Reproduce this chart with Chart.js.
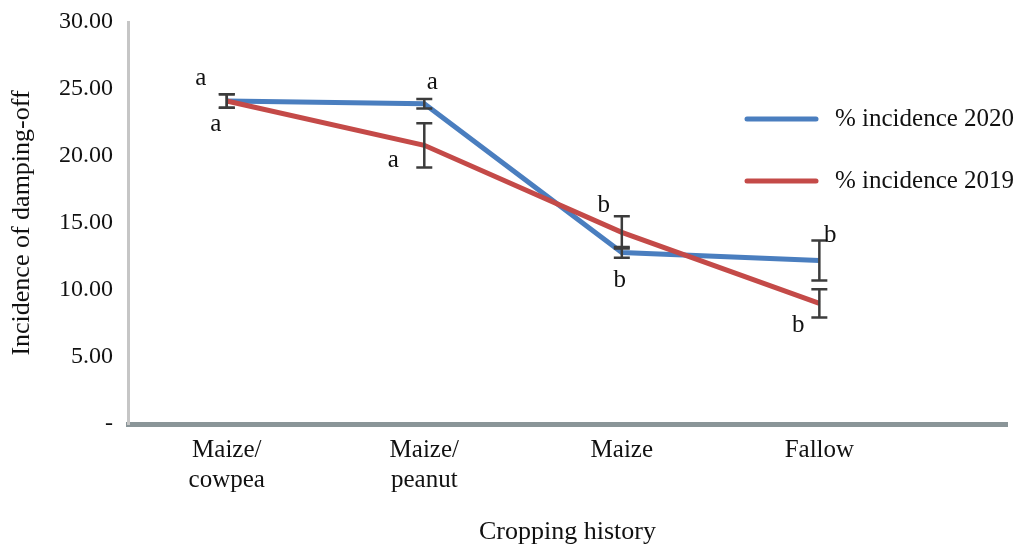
<!DOCTYPE html>
<html>
<head>
<meta charset="utf-8">
<script src="https://cdn.jsdelivr.net/npm/chart.js@4/dist/chart.umd.min.js"></script>
<style>
    html, body { margin: 0; padding: 0; background: #fff; }
    #wrap { width: 1018px; height: 545px; }
</style>
</head>
<body>
<div id="wrap"><canvas id="chart" width="1018" height="545"></canvas></div>
<script>
// values
var categories = [['Maize/', 'cowpea'], ['Maize/', 'peanut'], 'Maize', 'Fallow'];
var incidence2020 = [24.1, 23.9, 12.8, 12.2];
var incidence2019 = [24.1, 20.8, 14.3, 9.0];
var error2020 = [0.5, 0.35, 0.4, 1.5];
var error2019 = [0.5, 1.65, 1.2, 1.05];
var letters2020 = ['a', 'a', 'b', 'b'];
var letters2019 = ['a', 'a', 'b', 'b'];
var yTicks = [0, 5, 10, 15, 20, 25, 30];

var BLUE = '#4a7ebf';
var RED = '#c44a48';
var FONT = '"Liberation Serif", "Times New Roman", serif';

// where each letter sits next to its point (pixels)
var letterOffsets2020 = [[-26, -23], [8, -21], [-2, 28], [11, -25]];
var letterOffsets2019 = [[-11, 23], [-31, 15], [-18, -27], [-21, 22]];

function toPoints(values) {
    return values.map(function (v, i) { return { x: i, y: v }; });
}

var extrasPlugin = {
    id: 'extras',
    afterDatasetsDraw: function (chart) {
        var c = chart.ctx;
        var xs = chart.scales.x;
        var ys = chart.scales.y;

        // error bars
        c.save();
        c.strokeStyle = '#3c3c3c';
        c.lineWidth = 2.5;
        [[incidence2020, error2020], [incidence2019, error2019]].forEach(function (pair) {
            pair[0].forEach(function (v, i) {
                var px = xs.getPixelForValue(i);
                var top = ys.getPixelForValue(v + pair[1][i]);
                var bot = ys.getPixelForValue(v - pair[1][i]);
                c.beginPath();
                c.moveTo(px, top); c.lineTo(px, bot);
                c.moveTo(px - 8, top); c.lineTo(px + 8, top);
                c.moveTo(px - 8, bot); c.lineTo(px + 8, bot);
                c.stroke();
            });
        });
        c.restore();

        // significance letters
        c.save();
        c.fillStyle = '#111';
        c.font = '25px ' + FONT;
        c.textAlign = 'center';
        c.textBaseline = 'middle';
        [[incidence2020, letters2020, letterOffsets2020], [incidence2019, letters2019, letterOffsets2019]].forEach(function (set) {
            set[0].forEach(function (v, i) {
                var px = xs.getPixelForValue(i) + set[2][i][0];
                var py = ys.getPixelForValue(v) + set[2][i][1];
                c.fillText(set[1][i], px, py);
            });
        });
        c.restore();

        // legend inside plot
        c.save();
        c.lineCap = 'round';
        c.lineWidth = 5;
        c.font = '25px ' + FONT;
        c.fillStyle = '#111';
        c.textAlign = 'left';
        c.textBaseline = 'middle';
        chart.data.datasets.forEach(function (ds, k) {
            var ly = 119 + k * 62;
            c.strokeStyle = ds.borderColor;
            c.beginPath();
            c.moveTo(747, ly); c.lineTo(816, ly);
            c.stroke();
            c.fillText(ds.label, 835, ly);
        });
        c.restore();
    }
};

new Chart(document.getElementById('chart'), {
    type: 'line',
    data: {
        datasets: [
            { label: '% incidence 2020', data: toPoints(incidence2020), borderColor: BLUE, backgroundColor: BLUE, borderWidth: 5, pointRadius: 0, tension: 0, order: 1 },
            { label: '% incidence 2019', data: toPoints(incidence2019), borderColor: RED, backgroundColor: RED, borderWidth: 5, pointRadius: 0, tension: 0, order: 0 }
        ]
    },
    options: {
        responsive: false,
        animation: false,
        layout: { padding: { top: 22, right: 11, left: 0, bottom: 0 } },
        plugins: { legend: { display: false }, tooltip: { enabled: false } },
        scales: {
            x: {
                type: 'linear',
                min: -0.5,
                max: 3.95,
                afterBuildTicks: function (scale) {
                    scale.ticks = categories.map(function (c, i) { return { value: i }; });
                },
                afterFit: function (scale) { scale.height = 121; },
                grid: { display: false, drawTicks: false },
                border: { display: true, color: '#8a9598', width: 5 },
                ticks: {
                    color: '#111',
                    padding: 11,
                    maxRotation: 0,
                    autoSkip: false,
                    font: { family: FONT, size: 25, lineHeight: 1.2 },
                    callback: function (v) { return categories[v]; }
                },
                title: { display: true, text: 'Cropping history', color: '#111', font: { family: FONT, size: 26, lineHeight: 1 }, padding: { top: 0, bottom: 0 } }
            },
            y: {
                min: 0,
                max: 30,
                afterBuildTicks: function (scale) {
                    scale.ticks = yTicks.map(function (v) { return { value: v }; });
                },
                afterFit: function (scale) {
                    scale.width = 128;
                    scale.paddingTop = 0;
                    scale.paddingBottom = 0;
                },
                grid: { display: false, drawTicks: false },
                border: { display: true, color: '#c6c6c6', width: 3 },
                ticks: {
                    color: '#111',
                    padding: 15,
                    font: { family: FONT, size: 24 },
                    callback: function (v) { return v === 0 ? '-' : v.toFixed(2); }
                },
                title: { display: true, text: 'Incidence of damping-off', color: '#111', font: { family: FONT, size: 26, lineHeight: 1.2 }, padding: { top: 7, bottom: 0 } }
            }
        }
    },
    plugins: [extrasPlugin]
});
</script>
</body>
</html>
